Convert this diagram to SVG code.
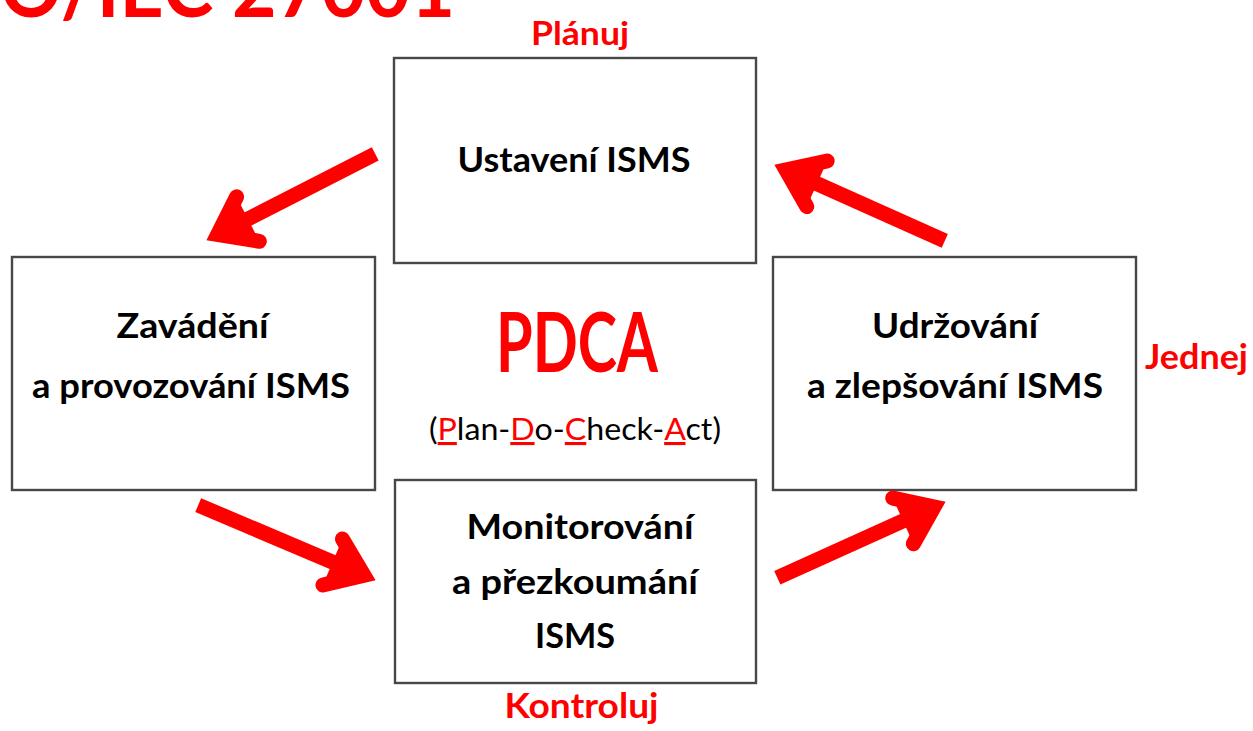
<svg xmlns="http://www.w3.org/2000/svg" width="1253" height="731" viewBox="0 0 1253 731">
  <style>
    .box { fill: #ffffff; stroke: #474747; stroke-width: 2.4; }
    .t { font-family: Lato, "Open Sans", "DejaVu Sans", sans-serif; font-weight: bold; fill: #000000; text-anchor: middle; }
    .r { font-family: Lato, "Open Sans", "DejaVu Sans", sans-serif; font-weight: bold; fill: #ff0000; text-anchor: middle; }
    .sub { font-family: Lato, "Open Sans", "DejaVu Sans", sans-serif; font-weight: normal; fill: #000000; text-anchor: middle; }
    .u { fill: #ff0000; text-decoration: underline; }
    .shaft { stroke: #ff0000; stroke-width: 15; fill: none; stroke-linecap: butt; }
    .head { stroke: #ff0000; stroke-width: 15; fill: #ff0000; stroke-linecap: round; stroke-linejoin: miter; stroke-miterlimit: 10; }
  </style>
  <defs>
    <!-- arrow head pointing along +x with its visible tip at the origin -->
    <g id="arrowHead">
      <polyline class="head" points="-46,-25 -12,0 -46,25"/>
    </g>
  </defs>

  <rect width="1253" height="731" fill="#ffffff"/>

  <!-- title, running off the top-left edge -->
  <text class="r" x="455" y="17" font-size="82" textLength="520" lengthAdjust="spacingAndGlyphs" style="text-anchor:end">ISO/IEC 27001</text>

  <!-- phase labels -->
  <text class="r" x="580" y="45" font-size="32" textLength="98" lengthAdjust="spacingAndGlyphs">Plánuj</text>
  <text class="r" x="581.5" y="718" font-size="35" textLength="154" lengthAdjust="spacingAndGlyphs">Kontroluj</text>
  <text class="r" x="1145" y="369" font-size="34" textLength="103" lengthAdjust="spacingAndGlyphs" style="text-anchor:start">Jednej</text>

  <!-- PDCA centre -->
  <g id="pdca">
    <text class="r" x="577" y="372" font-size="82" font-weight="900" textLength="162" lengthAdjust="spacingAndGlyphs">PDCA</text>
    <text class="sub" x="575" y="440" font-size="31" textLength="292" lengthAdjust="spacingAndGlyphs">(<tspan class="u">P</tspan>lan-<tspan class="u">D</tspan>o-<tspan class="u">C</tspan>heck-<tspan class="u">A</tspan>ct)</text>
  </g>

  <g id="plan">
    <rect class="box" x="394" y="58" width="362" height="205"/>
    <text class="t" x="574" y="172" font-size="35" textLength="233" lengthAdjust="spacingAndGlyphs">Ustavení ISMS</text>
  </g>

  <g id="do">
    <rect class="box" x="12" y="257" width="363" height="233"/>
    <text class="t" x="192.5" y="338" font-size="35" textLength="152" lengthAdjust="spacingAndGlyphs">Zavádění</text>
    <text class="t" x="191" y="398" font-size="35" textLength="318" lengthAdjust="spacingAndGlyphs">a provozování ISMS</text>
  </g>

  <g id="act">
    <rect class="box" x="773" y="257" width="363" height="233"/>
    <text class="t" x="955" y="338" font-size="35" textLength="166" lengthAdjust="spacingAndGlyphs">Udržování</text>
    <text class="t" x="955" y="398" font-size="35" textLength="296" lengthAdjust="spacingAndGlyphs">a zlepšování ISMS</text>
  </g>

  <g id="check">
    <rect class="box" x="395" y="480" width="361" height="203"/>
    <text class="t" x="580" y="539" font-size="35" textLength="227" lengthAdjust="spacingAndGlyphs">Monitorování</text>
    <text class="t" x="575" y="594" font-size="35" textLength="246" lengthAdjust="spacingAndGlyphs">a přezkoumání</text>
    <text class="t" x="575" y="648" font-size="35" textLength="80" lengthAdjust="spacingAndGlyphs">ISMS</text>
  </g>

  <!-- cycle arrows -->
  <g id="connectors">
    <g transform="translate(207,240) rotate(152.9)">
      <line class="shaft" x1="-189" y1="0" x2="-14" y2="0"/>
      <use href="#arrowHead"/>
    </g>
    <g transform="translate(375,580) rotate(22.96)">
      <line class="shaft" x1="-192" y1="0" x2="-14" y2="0"/>
      <use href="#arrowHead"/>
    </g>
    <g transform="translate(945,502) rotate(-24.3)">
      <line class="shaft" x1="-184" y1="0" x2="-14" y2="0"/>
      <use href="#arrowHead"/>
    </g>
    <g transform="translate(775,165) rotate(204.1)">
      <line class="shaft" x1="-186" y1="0" x2="-14" y2="0"/>
      <use href="#arrowHead"/>
    </g>
  </g>
</svg>
